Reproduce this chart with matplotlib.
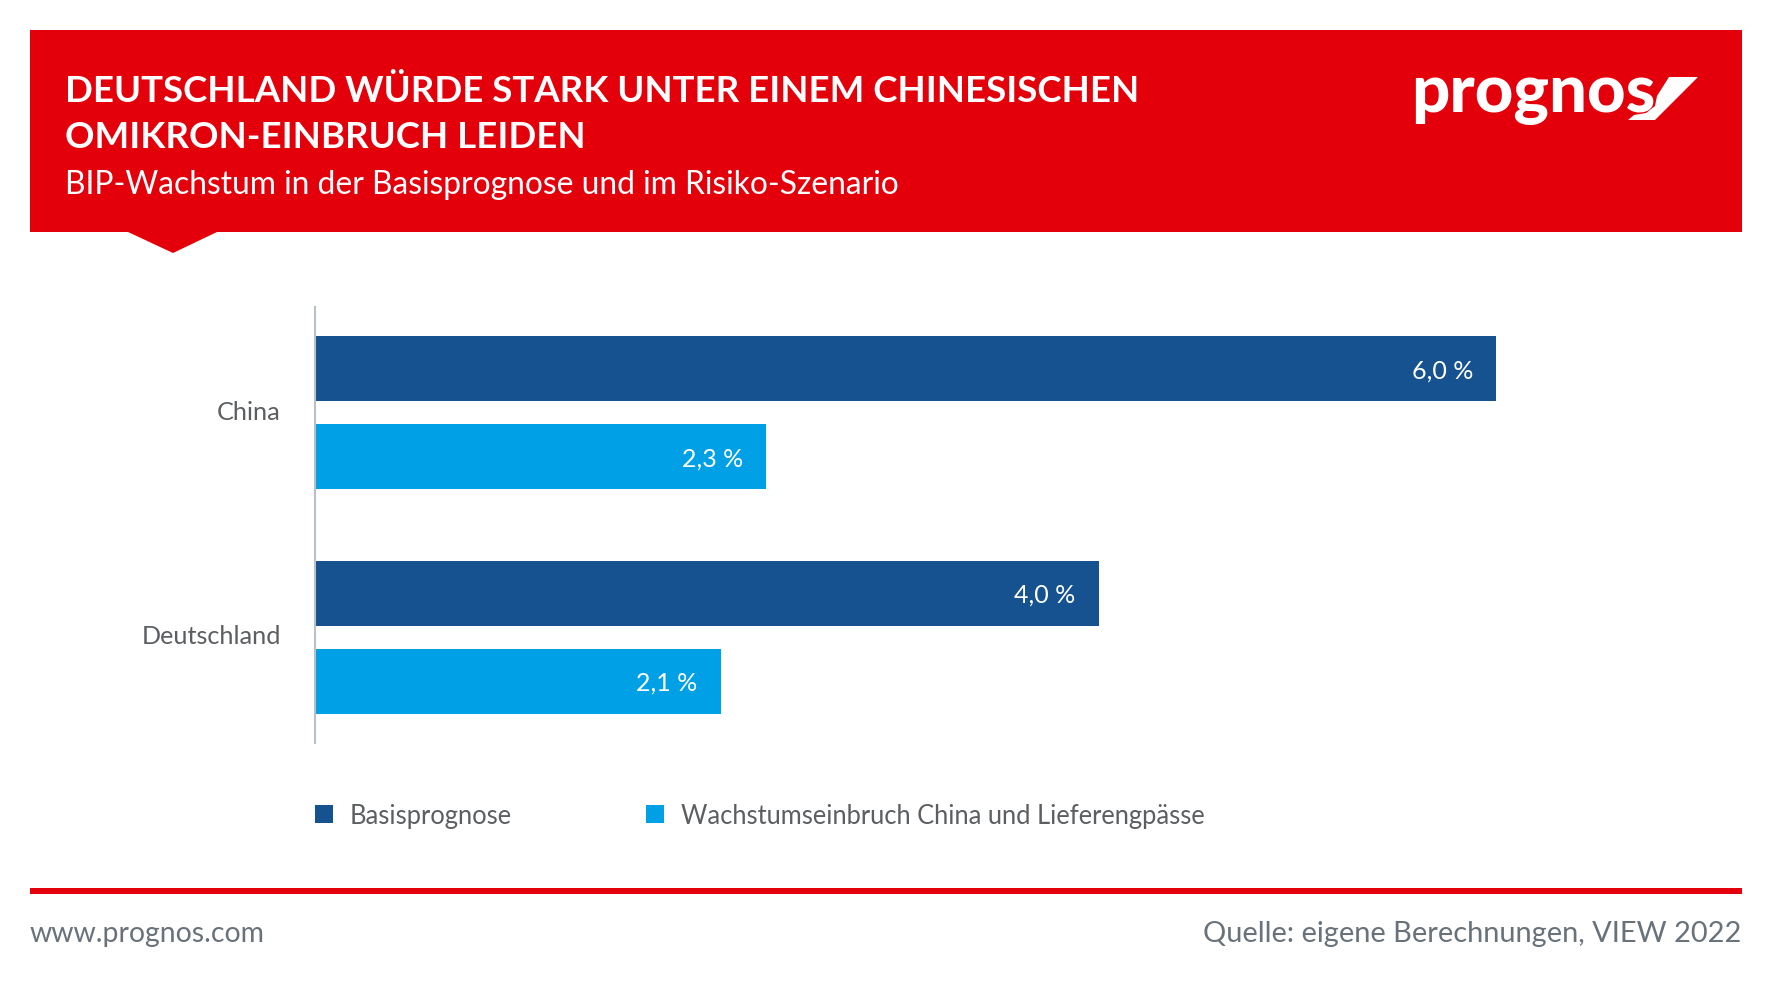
import matplotlib
matplotlib.use('Agg')
import numpy as np
import matplotlib.pyplot as plt
from matplotlib.patches import Rectangle, Polygon
from matplotlib.transforms import ScaledTranslation

# ==========================================
# DATA
# ==========================================
categories = ['China', 'Deutschland']
basis_values = [6.0, 3.98]
risk_values = [2.29, 2.06]
series_names = ['Basisprognose', 'Wachstumseinbruch China und Lieferengpässe']

title_lines = ['DEUTSCHLAND WÜRDE STARK UNTER EINEM CHINESISCHEN', 'OMIKRON-EINBRUCH LEIDEN']
subtitle = 'BIP-Wachstum in der Basisprognose und im Risiko-Szenario'
footer_left = 'www.prognos.com'
footer_right = 'Quelle: eigene Berechnungen, VIEW 2022'

RED = '#e3000b'
DARK = '#15528f'
LIGHT = '#00a0e6'
GREY = '#5c5f62'
FOOT = '#69727a'

W, H = 1772, 1004
fig = plt.figure(figsize=(W / 100, H / 100), dpi=100, facecolor='white')
px = 0.72  # pt per pixel at dpi 100

# ==========================================
# HEADER + FOOTER (pixel coordinates)
# ==========================================
bg = fig.add_axes([0, 0, 1, 1])
bg.set_xlim(0, W)
bg.set_ylim(H, 0)
bg.axis('off')

bg.add_patch(Rectangle((30, 31), 1712, 202, fc=RED, ec='none'))
bg.add_patch(Polygon([(128, 233), (217, 233), (173, 254)], fc=RED, ec='none'))
bg.add_patch(Rectangle((30, 889), 1712, 6, fc=RED, ec='none'))

bg.text(65, 102, title_lines[0], color='white', fontsize=36.6 * px, fontweight='bold', family='Lato', va='baseline')
bg.text(65, 148, title_lines[1], color='white', fontsize=36.6 * px, fontweight='bold', family='Lato', va='baseline')
bg.text(65, 194, subtitle, color='white', fontsize=31.8 * px, fontweight=400, family='Lato', va='baseline')

# logo
bg.text(1411, 112, 'prognos', color='white', fontsize=67 * px, fontweight='black', family='Lato', va='baseline')
bg.add_patch(Polygon([(1669, 78), (1698, 78), (1655, 121), (1628, 121), (1634, 116),
                      (1646, 114), (1655, 107), (1657, 97)], fc='white', ec='none'))

bg.text(30, 942, footer_left, color=FOOT, fontsize=28.4 * px, family='Lato', va='baseline')
bg.text(1741, 942, footer_right, color=FOOT, fontsize=29 * px, family='Lato', va='baseline', ha='right')

# ==========================================
# CHART
# ==========================================
ax = fig.add_axes([315 / W, 1 - 744 / H, (1742 - 315) / W, (744 - 308) / H])
ax.patch.set_alpha(0)

y = np.arange(len(categories))
offset = 0.196
bar_h = 0.289
b1 = ax.barh(y - offset, basis_values, height=bar_h, color=DARK, label=series_names[0])
b2 = ax.barh(y + offset, risk_values, height=bar_h, color=LIGHT, label=series_names[1])

ax.set_xlim(0, 1427 / 196.9)
ax.set_ylim(1.47, -0.47)
ax.set_yticks(y)
ax.set_yticklabels(categories, fontsize=25.3 * px, color=GREY, family='Lato')
ax.set_xticks([])
ax.tick_params(axis='y', length=0, pad=24.5)
for lab in ax.get_yticklabels():
    lab.set_transform(lab.get_transform() + ScaledTranslation(0, 3.5 / 100, fig.dpi_scale_trans))

for name in ['top', 'right', 'bottom']:
    ax.spines[name].set_visible(False)
ax.spines['left'].set_color('#b9c0c6')
ax.spines['left'].set_linewidth(1.5)

for bars in (b1, b2):
    for r in bars:
        val = r.get_width()
        ax.annotate(f'{val:.1f} %'.replace('.', ','), xy=(val, r.get_y() + r.get_height() / 2),
                    xytext=(-23 * px, -1 * px), textcoords='offset points', ha='right', va='center',
                    color='white', fontsize=25 * px, family='Lato')

leg = ax.legend(loc='upper left', bbox_to_anchor=(315 / W, 1 - 804 / H), bbox_transform=fig.transFigure,
                ncols=2, frameon=False, borderpad=0, borderaxespad=0, fontsize=25.5 * px,
                handlelength=0.706, handleheight=0.706, handletextpad=0.667, columnspacing=5.25)
for t in leg.get_texts():
    t.set_color(GREY)
    t.set_family('Lato')

fig.savefig('out.png', dpi=100)
